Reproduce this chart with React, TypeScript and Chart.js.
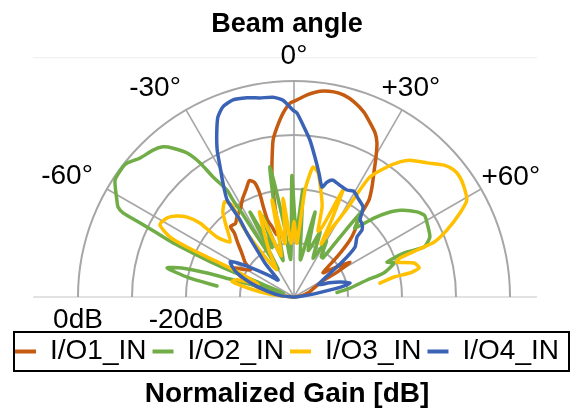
import React, { useEffect, useRef } from "react";
import { Chart, registerables } from "chart.js";

Chart.register(...registerables);

// ---------- data (angle in degrees from broadside, normalized gain in dB) ----------
const seriesNames = ["I/O1_IN", "I/O2_IN", "I/O3_IN", "I/O4_IN"];
const seriesColors = ["#C55A11", "#70AD47", "#FFC000", "#3A63B6"];

const io1Angles = [-90, -84, -78, -72, -67, -64, -61, -58, -55, -50, -46, -43, -42, -38.5, -35.5, -31, -28, -24, -21, -19, -18.3, -18.8, -19, -17.4, -15.5, -13.4, -12.5, -11.9, -11.1, -10.1, -9.1, -7.6, -5.7, -3.4, -1.2, 0.9, 3.7, 7.2, 11, 13.9, 17.1, 20.7, 23.6, 26.3, 28.3, 30.4, 32.8, 35.3, 37.7, 39.7, 42.3, 44.5, 47, 50, 54, 58, 60, 61, 66, 72, 80, 90];
const io1Gains = [-40, -38, -35, -31, -28.5, -27.8, -29.5, -30.5, -29, -27.4, -25.5, -23.8, -22.4, -22.6, -21.8, -20.8, -19.6, -18.2, -16.9, -17.6, -19.7, -22.4, -24.9, -26.4, -28, -27.2, -25.4, -23, -19.8, -16.7, -14.3, -10.7, -8.4, -5.9, -4.1, -3.5, -2.5, -1.6, -1.3, -1.5, -2.2, -3.4, -4.8, -6.1, -7.6, -10, -12.7, -15, -17.3, -21.5, -23.2, -25.2, -29, -33, -31, -27.8, -30.8, -34, -36, -37, -38.5, -40];

const io2Angles = [-81.9, -79.5, -77.1, -75.5, -74.6, -74.4, -73, -70, -68, -67.5, -67.7, -67.2, -66.5, -65.9, -65, -64.3, -63.8, -62.9, -61.3, -56.8, -52.8, -51.3, -47.9, -43.8, -41.1, -39.1, -36.6, -35, -34, -32.1, -32.2, -31.8, -31.4, -30.6, -29.5, -27.4, -24, -21, -17, -13, -10.5, -8, -5, -1, 2, 4.7, 7, 10, 13.9, 17, 22, 26, 30, 34, 36.5, 37.5, 38.5, 40.5, 41.5, 45.4, 47.9, 51, 55.3, 58, 60.9, 66.2, 69, 68.2, 69.4, 71.2, 75, 76.9, 80.9, 84];
const io2Gains = [-25.6, -20, -15.9, -18.5, -23.3, -28.3, -34, -38, -34, -31.8, -27.8, -23.7, -19.6, -15.5, -12, -8.4, -4.7, -3.4, -2.6, -0.4, -0.2, -0.35, -1.6, -2.3, -3.1, -4.5, -6.8, -9.7, -13.2, -16.6, -18.8, -21.7, -26.1, -30.5, -34, -22.3, -30, -24, -33, -25, -15.5, -26, -33, -17.5, -28, -20, -30, -33, -23.8, -31, -27, -32, -28, -31, -31, -26, -19.7, -22, -23, -19.2, -16.8, -14.5, -12.3, -11.5, -11.8, -12.5, -14.2, -18, -21.6, -20.4, -22.8, -26.1, -29.5, -32];

const io3Angles = [-90, -84, -80, -76, -73, -70, -66, -65.5, -65.3, -65, -64.2, -61.7, -58.1, -55.5, -53.2, -51.8, -52.1, -49.3, -44, -40, -36, -34, -36, -36.4, -36, -33, -28, -22, -17, -12.8, -9.5, -6.3, -3, 0, 3, 5.9, 8.3, 11, 14, 17.3, 20, 22, 24.6, 26, 27, 29, 31, 31.5, 32.3, 35.6, 38.1, 40.3, 44.8, 48.7, 51.6, 54.1, 57.1, 60.7, 63.2, 66.4, 68.6, 69.1, 69.8, 71.2, 74.2, 76.9, 78.3, 78.7, 80.8];
const io3Gains = [-40, -36, -32.3, -28.2, -29, -33, -29, -26.3, -22.3, -18.1, -14.5, -11.8, -12.3, -13.5, -15.3, -17.9, -21.9, -24.4, -22, -19.5, -18.2, -19.5, -23.9, -26.9, -30, -34, -30, -23, -32, -21.6, -30, -21.6, -30, -26, -30, -20, -15.7, -16.6, -19.5, -22.5, -27, -26, -18.2, -24, -29, -25.2, -21, -17.5, -13.7, -10.4, -8.2, -6.8, -5, -3, -2.2, -2.1, -2.5, -3.3, -5.6, -9.1, -12.1, -15.6, -19.1, -19.9, -16.9, -16.2, -18.1, -21.1, -23.9];

const io4Angles = [-90, -84, -78, -72, -67, -64, -61, -58, -54, -49, -45, -43, -40.5, -38.2, -36.3, -35, -34.6, -31.9, -29.6, -27.6, -25.2, -22.9, -20.5, -17.2, -13.3, -9.7, -6, -3.2, -0.3, 0.9, 3.4, 5.8, 8.5, 11.4, 14.3, 16, 18.4, 22, 26.3, 29.5, 32.9, 37.5, 40.6, 43, 45.4, 46.4, 50.7, 54, 58, 63, 68, 72, 76, 78, 81, 86, 90];
const io4Gains = [-40, -37.5, -35, -31.5, -28.5, -27.3, -26.5, -28.5, -31.5, -34, -35.5, -35.7, -31.7, -28.9, -25.3, -22.6, -18.2, -15.1, -12.3, -9.3, -6.4, -3.8, -2.4, -1.8, -2.1, -2.6, -2.8, -3.5, -5.4, -5.9, -8.5, -10.8, -13.8, -16.6, -19, -17.9, -17.2, -17.6, -17.9, -17.5, -18.2, -19, -21.2, -21.5, -22.3, -23.9, -25.4, -29, -33, -35, -33, -31, -29.3, -31, -36, -39, -40];

const seriesAngles = [io1Angles, io2Angles, io3Angles, io4Angles];
const seriesGains = [io1Gains, io2Gains, io3Gains, io4Gains];

// axis definitions
const gainFloor = -40; // dB at the centre
const ringLevels = [0, -10, -20, -30]; // dB rings
const spokeAngles = [-60, -30, 0, 30, 60];
const spokeLabels = ["-60°", "-30°", "0°", "+30°", "+60°"];
const ringLabelLevels = [0, -20];
const ringLabels = ["0dB", "-20dB"];

// ---------- helpers ----------
const toPolarPoints = (angles: number[], gains: number[]) =>
  angles.map((a, i) => {
    const r = Math.max(0, gains[i] - gainFloor);
    const t = (a * Math.PI) / 180;
    return { x: r * Math.sin(t), y: r * Math.cos(t) };
  });

const FONT = "'Liberation Sans', Arial, Helvetica, sans-serif";

// label placement (layout, not data): angle offset and radius in dB units
const spokeLabelPlace = [
  { a: -62, r: 47.6 },
  { a: -33.6, r: 46.5 },
  { a: 0, r: 44.6 },
  { a: 29.2, r: 44.35 },
  { a: 61, r: 45.9 },
];

const polarGridPlugin = {
  id: "polarGrid",
  beforeDatasetsDraw(chart: any) {
    const { ctx, scales } = chart;
    const xs = scales.x;
    const ys = scales.y;
    const cx = xs.getPixelForValue(0);
    const cy = ys.getPixelForValue(0);
    const unit = xs.getPixelForValue(1) - cx;
    const R = -gainFloor * unit;
    ctx.save();
    // faint frame line
    ctx.strokeStyle = "#EDEDED";
    ctx.lineWidth = 1;
    ctx.beginPath();
    ctx.moveTo(xs.getPixelForValue(-48.3), ys.getPixelForValue(44.4) + 0.5);
    ctx.lineTo(xs.getPixelForValue(45), ys.getPixelForValue(44.4) + 0.5);
    ctx.stroke();
    // baseline
    ctx.strokeStyle = "#D9D9D9";
    ctx.lineWidth = 1.5;
    ctx.beginPath();
    ctx.moveTo(xs.getPixelForValue(-48.3), cy);
    ctx.lineTo(xs.getPixelForValue(45), cy);
    ctx.stroke();
    // rings
    ctx.strokeStyle = "#A6A6A6";
    ctx.lineWidth = 2;
    ringLevels.forEach((lv) => {
      const rr = (lv - gainFloor) * unit;
      ctx.beginPath();
      ctx.arc(cx, cy, rr, Math.PI, 2 * Math.PI);
      ctx.stroke();
    });
    // spokes
    ctx.lineWidth = 1.6;
    spokeAngles.forEach((a) => {
      const t = (a * Math.PI) / 180;
      ctx.beginPath();
      ctx.moveTo(cx, cy);
      ctx.lineTo(cx + R * Math.sin(t), cy - R * Math.cos(t));
      ctx.stroke();
    });
    ctx.restore();
  },
  afterDraw(chart: any) {
    const { ctx, scales } = chart;
    const xs = scales.x;
    const ys = scales.y;
    const cx = xs.getPixelForValue(0);
    const cy = ys.getPixelForValue(0);
    const unit = xs.getPixelForValue(1) - cx;
    ctx.save();
    ctx.fillStyle = "#000";
    ctx.font = `28px ${FONT}`;
    ctx.textAlign = "center";
    ctx.textBaseline = "middle";
    spokeLabels.forEach((txt, i) => {
      const p = spokeLabelPlace[i];
      const t = (p.a * Math.PI) / 180;
      ctx.fillText(txt, cx + p.r * unit * Math.sin(t), cy - p.r * unit * Math.cos(t));
    });
    ringLabels.forEach((txt, i) => {
      const rr = (ringLabelLevels[i] - gainFloor) * unit;
      ctx.fillText(txt, cx - rr, cy + 23.5);
    });
    // legend frame
    const lg = chart.legend;
    if (lg) {
      const mid = lg.top + lg.options.labels.padding + 14;
      ctx.strokeStyle = "#000";
      ctx.lineWidth = 2;
      ctx.strokeRect(14, mid - 19.5, 555, 39);
    }
    ctx.restore();
  },
};

export default function App() {
  const canvasRef = useRef<HTMLCanvasElement | null>(null);

  useEffect(() => {
    document.body.style.margin = "0";
    const canvas = canvasRef.current;
    if (!canvas) return;
    const pxPerDb = 5.4;
    const centerX = 294;
    const centerY = 297;
    const areaTop = 40;
    const areaBottom = 331.5;
    const width = 574;

    const datasets = seriesNames.map((name, i) => ({
      label: name,
      data: toPolarPoints(seriesAngles[i], seriesGains[i]),
      borderColor: seriesColors[i],
      backgroundColor: seriesColors[i],
      borderWidth: 3.5,
      pointRadius: 0,
      pointHoverRadius: 0,
      showLine: true,
      tension: 0.2,
      borderJoinStyle: "round" as const,
      borderCapStyle: "round" as const,
      order: seriesNames.length - i,
      clip: false as any,
    }));

    const chart = new Chart(canvas, {
      type: "scatter",
      data: { datasets },
      plugins: [polarGridPlugin],
      options: {
        responsive: false,
        animation: false,
        devicePixelRatio: 1,
        layout: { padding: 0, autoPadding: false },
        scales: {
          x: {
            type: "linear",
            display: false,
            min: -centerX / pxPerDb,
            max: (width - centerX) / pxPerDb,
          },
          y: {
            type: "linear",
            display: false,
            min: -(areaBottom - centerY) / pxPerDb,
            max: (centerY - areaTop) / pxPerDb,
          },
        },
        plugins: {
          tooltip: { enabled: false },
          title: {
            display: true,
            text: "Beam angle",
            color: "#000",
            font: { family: FONT, size: 27, weight: "bold", lineHeight: 1 },
            padding: { top: 11, bottom: 2 },
          },
          subtitle: {
            display: true,
            position: "bottom",
            text: "Normalized Gain [dB]",
            color: "#000",
            font: { family: FONT, size: 28, weight: "bold", lineHeight: 1 },
            padding: { top: 5, bottom: 1.5 },
          },
          legend: {
            display: true,
            position: "bottom",
            labels: {
              color: "#000",
              font: { family: FONT, size: 28 },
              boxWidth: 21,
              boxHeight: 4,
              padding: 6,
              sort: (a: any, b: any) => a.datasetIndex - b.datasetIndex,
              generateLabels: (c: any) => {
                const base = (Chart.defaults.plugins.legend.labels as any).generateLabels(c);
                return base
                  .map((it: any) => ({
                    ...it,
                    lineWidth: 0,
                    fillStyle: seriesColors[it.datasetIndex],
                    strokeStyle: seriesColors[it.datasetIndex],
                  }))
                  .sort((a: any, b: any) => a.datasetIndex - b.datasetIndex);
              },
            },
          },
        },
      } as any,
    });
    return () => chart.destroy();
  }, []);

  return (
    <div style={{ width: 574, height: 410, background: "#fff" }}>
      <canvas ref={canvasRef} width={574} height={410} style={{ width: 574, height: 410, display: "block" }} />
    </div>
  );
}
